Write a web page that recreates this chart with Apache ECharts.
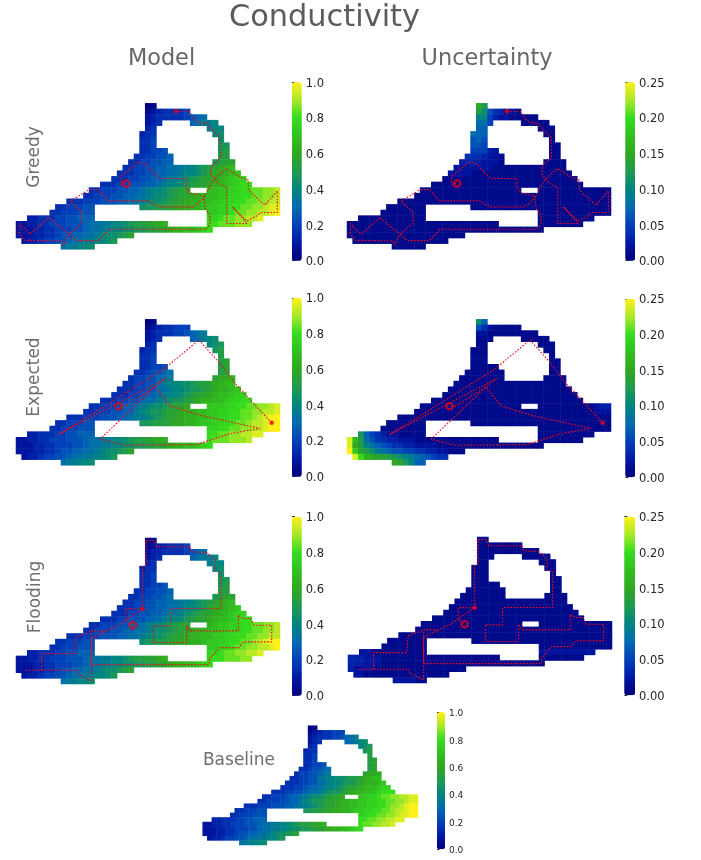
<!DOCTYPE html>
<html><head><meta charset="utf-8">
<style>html,body{margin:0;padding:0;background:#fff}#c{width:701px;height:860px}</style>
<script src="https://cdn.jsdelivr.net/npm/echarts@6/dist/echarts.min.js"></script>
</head><body><div id="c"></div>
<script>
// Cell spans of the site outline, per row, inclusive [first,last] columns
const siteSpans=[
[[23,24]],[[23,30]],[[23,33]],[[23,25],[31,35]],[[23,24],[34,36]],[[22,24],[35,36]],[[22,24],[36,36]],[[22,24],[36,37]],
[[22,26],[36,37]],[[21,27],[36,37]],[[20,27],[35,38]],[[19,38]],[[18,39]],[[17,40]],[[15,41]],[[13,30],[34,46]],
[[12,46]],[[9,46]],[[7,13],[22,46]],[[6,13],[34,46]],[[2,13],[34,43]],[[0,26],[34,41]],[[0,34]],[[0,20]],[[1,17]],[[8,13]]];

// Cell values, a=0 ... z=1 of the colour scale, in span order (last letter repeats to row end)
const greedyModel=["ab","bcdeeeef","cdeeeeefghi","cde hijjk","de jkk","dee kl","eef l","eef mm","eeffg mn","eeffggh nn","eeffgghh mnoo",
"eeffgghhiijjklmnopqr","eeeffgghhiijkklmoppqrs","eeeffgghhijjklmnoopqrstt","eeeffggghhijkklmnoopqrrstuu",
"eefffgghhijkklmnoo rrssttuuvvwwx","eefffgghhiijkllmnoopqqrrssttuuvvwwx","eeefffggghhiijkllmnoopqqrrssttuuvvwwxx",
"eefffgg lmmnnooppqqrssttuuvvwwxyy","eefffggg ssttuvvwwxxyz","ddeeeffgghhh ttuvvwwxxy","ccddeefffggghiijjkklmnnoopq uuvvvwww",
"cccddeefffgghiijjkkllmmnnoopqqrrstu","cccddeefgghhiijkllmno","cddeffgghiijjkklm","ijjkkl"];
const greedyUncert=["pm","nlgedccb","kkfdccbbbbb","iif bbbbb","hh bbb","ihh bb","ghg b","ggf bb","fffdc bb","eeedccb bb","ddddcccb bbbb",
"cccccccb","ccccb","b","b","b","b","b","b","b","b","b","b","b","b","b"];
const expectedModel=["ab","bcdeefff","cdeeeffghij","cde hijkl","de klm","dee mn","eef n","eef no","eeffg no","eefgghi no","effgghij oppq",
"eeffggijkkllmnnopqrr","eeeffggiijkklmmnopqqrs","eeeffghhijkklmnoopqrrstt","eeeffgghiijklmmnopqqrrsttuu",
"eefffghhijkllmnoop sssttuuvvwwxy","eefffgghhjklmmnoopqqrrssttuuvvwwxxy","eeefffggghhijjklmnoopqqrrssttuuvvwxyzz",
"eefffgg mmnnooppqqrssttuuvvwxxyzz","eefffggg ttuuvvwwxxyzz","ddeeeffgghhh uuvvwwxxyy","ccddeefffggghiijjkklmnnoopq uvvvwwwx",
"cccddeefffgghiijjkkllmmnnoopqqrrstu","cccddeefgghhiijkllmno","cddeffgghiijjkklm","ijjkkl"];
const expectedUncert=["lh","gecb","ccb","b","b","b","b","b","b","b","b","b","b","b","b",
"bbbbbbbbbbbbbbbbbb bbbbbbbbbbcdd","bbbbbbbbbbbbbbbbbbbbbbbbbbbbbbbbccc","b","b","b",
"mhfedccbbbbb b","yrnigeeddcccbbb","ypnkihgfeeddccccbbb","zsonljihggffeeddccbbb","yuqpoonmlkjihgfee","pomkhh"];
const floodingModel=["ab","bcddeeef","cddeeeefghi","cde hijjk","de jkk","dee kl","eef l","eef mm","eeffg mn","eeffggh nn","eeffgghi mnoo",
"eeffgghhiijjklmnopqr","eeeffgghhiijkklmoppqrs","eeeffgghhijjklmnoopqrstt","eeeffggghhijkklmnoopqrrstuu",
"eefffgghhijkklmnoo qrssttuuvvwwx","eefffgghhiijkllmnoopqqrrssttuuvvwwx","eeefffggghhiijkllmnoopqqrrssttuuvvwwxx",
"eefffgg lmmnnooppqqrssttuuvvwxyzz","eefffggg ssttuvvwwxxyz","ddeeeffgghhh ttuvvwwxxy","ccddeefffggghiijjkklmnnoopq tuuvvvww",
"cccddeefffgghiijjkkllmmnnoopqqrrstu","cccddeefgghhiijkllmno","cddeffgghiijjkklm","ijjkkl"];
const floodingUncert=["b","b","b","b","b","b","b","b","b","b","b","b","b","b","b","b","b","b","b","b",
"ccbbbbbbbbbb cccccccccc","dddcccbbb","dddcccbbb","dccccbbb","ccbbb","ccccbb"];
const baselineModel=["ab","bcdeefff","cdeeeffghij","cde hijkl","de klm","dee mn","eef n","eef no","eeffg no","eefgghi no","effgghij oppq",
"eeffggijkkllmnnopqrr","eeeffggiijkklmmnopqqrs","eeeffghhijkklmnoopqrrstt","eeeffgghiijklmmnopqqrrstuu",
"eefffghhijkllmnoop ssttuvvwwxxyy","eefffgghhjklmmnoopqqrrssttuuvvwwxyy","eeefffggghhijjklmnoopqqrrssttuuvwwxyzz",
"eefffgg mmnnooppqqrssttuuvvwxxyzz","eefffggg ttuuvvwwxyyzz","ddeeeffgghhh uuvvwwxxyy","ccddeefffggghiijjkklmnnoopq uvvwwxxy",
"cccddeefffgghiijjkkllmmnnoopqqrrstu","cccddeefgghhiijkllmno","cddeffgghiijjkklm","ijjkkl"];

// Robot paths in map units (0-792 across, 0-437 down)
const greedyPath=[[480,24],[520,24],[537,50],[552,58],[572,60],[592,83],[612,100],[614,162],[587,187],[584,212],[607,240],[632,252],[632,360],[694,360],[649,310],[692,352],[722,337],[734,327],[784,327],[784,262],[747,305],[697,260],[697,230],[674,222],[632,195],[592,230],[562,285],[534,310],[430,310],[397,292],[277,292],[247,258],[220,258],[197,272],[162,293],[197,325],[197,360],[159,392],[142,425],[137,412],[24,410],[10,390],[10,360],[42,392],[99,342],[159,392],[182,411],[247,411],[280,377],[570,377],[582,362],[582,332],[569,320],[562,278],[522,268],[510,252],[510,225],[430,225],[389,182],[367,175],[314,220],[314,242],[330,240]];
const expectedPath=[[767,310],[662,197],[607,127],[549,62],[442,150],[287,247],[127,345],[449,177],[417,202],[462,259],[552,287],[732,327],[642,342],[542,375],[327,377],[252,359],[417,202],[327,260],[308,260]];
const floodingPath=[[380,212],[380,86],[390,81],[390,8],[414,8],[422,26],[522,26],[527,41],[574,44],[597,66],[597,98],[614,103],[614,211],[464,211],[464,263],[412,263],[412,313],[512,313],[512,261],[522,278],[667,278],[667,231],[682,241],[704,241],[714,261],[767,261],[767,311],[682,311],[669,328],[612,328],[580,363],[580,379],[227,379],[227,278],[272,278],[227,278],[180,296],[177,346],[77,346],[77,396],[27,396],[182,396],[187,408],[227,428],[227,301],[272,278],[307,261],[380,212],[330,211],[330,246],[350,261]];

// Colour bars
const modelMax=1.0, uncertMax=0.25, modelStep=0.2, uncertStep=0.05;
const cmap=['#00007a','#0018a4','#0040b8','#006ab0','#008580','#1f9a50','#30a820','#30c020','#35dc1e','#a8e828','#fff01a'];

const panels=[
 {f:greedyModel,p:greedyPath,max:modelMax,step:modelStep,dec:1,x:16,y:103.3,w:264,h:146,bx:292,by:82.3,bw:9.7,bh:178.4,fs:11.5},
 {f:greedyUncert,p:greedyPath,max:uncertMax,step:uncertStep,dec:2,x:347,y:103.3,w:264,h:146,bx:625.3,by:82.3,bw:9.7,bh:178.4,fs:11.5},
 {f:expectedModel,p:expectedPath,max:modelMax,step:modelStep,dec:1,x:16,y:319.3,w:264,h:146,bx:292,by:298,bw:9.7,bh:178.7,fs:11.5},
 {f:expectedUncert,p:expectedPath,max:uncertMax,step:uncertStep,dec:2,x:347,y:319.3,w:264,h:146,bx:625.3,by:299,bw:9.7,bh:178.3,fs:11.5},
 {f:floodingModel,p:floodingPath,max:modelMax,step:modelStep,dec:1,x:16,y:538,w:264,h:146,bx:292,by:516.7,bw:9.7,bh:179,fs:11.5},
 {f:floodingUncert,p:floodingPath,max:uncertMax,step:uncertStep,dec:2,x:348,y:537,w:264,h:146,bx:624.3,by:516.7,bw:10.7,bh:178.5,fs:11.5},
 {f:baselineModel,p:null,max:modelMax,step:modelStep,dec:1,x:202.7,y:725.7,w:215.3,h:119.3,bx:437,by:712.3,bw:8,bh:137,fs:9}
];

function cells(rows,max){
  const out=[];
  siteSpans.forEach((spans,r)=>{
    const s=rows[r].replace(/ /g,''); let i=0;
    spans.forEach(([a,b])=>{for(let c=a;c<=b;c++,i++){
      const ch=i<s.length?s[i]:s[s.length-1];
      out.push([c,r,(ch.charCodeAt(0)-97)/25*max]);
    }});
  });
  return out;
}
const nCols=47,nRows=26;
const colNames=Array.from({length:nCols},(_,i)=>String(i));
const rowNames=Array.from({length:nRows},(_,i)=>String(i));

const grid=[],xAxis=[],yAxis=[],series=[],visualMap=[];
panels.forEach(P=>{
  const rect={left:P.x,top:P.y,width:P.w,height:P.h,containLabel:false};
  // heat map
  let gi=grid.length; grid.push(rect);
  xAxis.push({type:'category',gridIndex:gi,data:colNames,show:false});
  yAxis.push({type:'category',gridIndex:gi,data:rowNames,inverse:true,show:false});
  const si=series.length;
  series.push({type:'heatmap',xAxisIndex:gi,yAxisIndex:gi,data:cells(P.f,P.max),silent:true,progressive:0,animation:false,emphasis:{disabled:true},itemStyle:{borderWidth:0}});
  visualMap.push({type:'continuous',seriesIndex:si,dimension:2,min:0,max:P.max,calculable:false,realtime:false,show:true,silent:true,
    left:P.bx,top:P.by,itemWidth:P.bw,itemHeight:P.bh,padding:0,text:null,showLabel:false,inRange:{color:cmap},hoverLink:false,
    controller:{inRange:{color:cmap,symbolSize:[P.bw,P.bw]},outOfRange:{color:cmap,symbolSize:[P.bw,P.bw]}}});
  // path
  if(P.p){
    gi=grid.length; grid.push(rect);
    xAxis.push({type:'value',gridIndex:gi,min:0,max:792,show:false});
    yAxis.push({type:'value',gridIndex:gi,min:0,max:437,inverse:true,show:false});
    series.push({type:'line',xAxisIndex:gi,yAxisIndex:gi,data:P.p,showSymbol:false,symbol:'none',silent:true,animation:false,z:5,
      lineStyle:{color:'#f80818',width:1.1,type:[1.6,1.6]}});
    series.push({type:'scatter',xAxisIndex:gi,yAxisIndex:gi,data:[P.p[0]],symbolSize:4.5,silent:true,animation:false,z:6,itemStyle:{color:'#f00010'}});
    series.push({type:'scatter',xAxisIndex:gi,yAxisIndex:gi,data:[P.p[P.p.length-1]],symbolSize:6.5,silent:true,animation:false,z:6,
      itemStyle:{color:'rgba(0,0,0,0)',borderColor:'#f00010',borderWidth:2}});
  }
  // colour-bar ticks
  gi=grid.length; grid.push({left:P.bx,top:P.by,width:P.bw,height:P.bh,containLabel:false});
  xAxis.push({type:'value',gridIndex:gi,show:false,min:0,max:1});
  yAxis.push({type:'value',gridIndex:gi,min:0,max:P.max,interval:P.step,position:'right',
    splitLine:{show:false},axisLine:{show:false},
    axisTick:{show:true,length:P.fs<10?2.5:3,lineStyle:{color:'#333',width:1}},
    axisLabel:{show:true,margin:4,color:'#262626',fontSize:P.fs,fontFamily:'DejaVu Sans',verticalAlign:'top',lineHeight:3,showMinLabel:true,showMaxLabel:true,
      formatter:v=>v.toFixed(P.dec)}});
});

function label(text,x,y,size,color,rot){
  return {type:'text',x:x,y:y,rotation:rot||0,silent:true,z:20,
    style:{text:text,fill:color,font:size+'px "DejaVu Sans"',textAlign:'center',textVerticalAlign:'middle'}};
}
const graphic=[
  label('Conductivity',324.5,18,30.4,'#5c5c5c'),
  label('Model',161.5,59.5,22.4,'#666666'),
  label('Uncertainty',487,59.5,22.4,'#666666'),
  label('Greedy',35,157,17,'#6e6e6e',Math.PI/2),
  label('Expected',35,377,17,'#6e6e6e',Math.PI/2),
  label('Flooding',36,597,17,'#6e6e6e',Math.PI/2),
  label('Baseline',239,760.5,17,'#6e6e6e')
];

const chart=echarts.init(document.getElementById('c'),null,{renderer:'canvas',width:701,height:860});
chart.setOption({animation:false,backgroundColor:'#fff',tooltip:{show:false},grid,xAxis,yAxis,series,visualMap,graphic});
</script></body></html>
